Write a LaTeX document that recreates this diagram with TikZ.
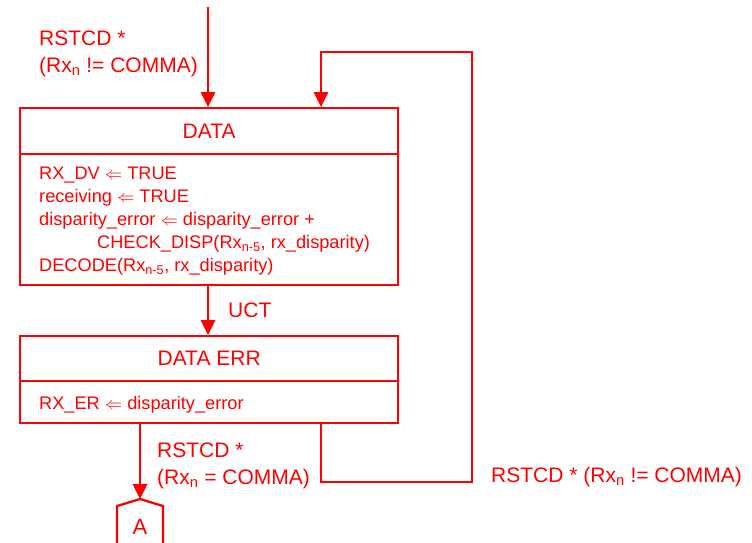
\documentclass[tikz,border=0pt]{standalone}
\usepackage{fontspec}
\setmainfont{Liberation Sans}
\usetikzlibrary{arrows.meta}
\definecolor{sred}{RGB}{255,0,0}
\newcommand\mysub[1]{\textsubscript{#1}}
\begin{document}
\begin{tikzpicture}[x=1pt,y=-1pt,
  every node/.style={text=sred},
  boxpart/.style={draw=sred,line width=2.3pt,minimum width=378pt,anchor=north west,inner sep=0pt},
  big/.style={font=\fontsize{21}{26.5}\selectfont},
  small/.style={font=\fontsize{18.2}{23}\selectfont},
  conn/.style={draw=sred,line width=2.6pt},
  arr/.style={conn,-{Triangle[width=14pt,length=15pt]}},
  lbl/.style={big,align=left,inner sep=0pt,anchor=north west}]
\useasboundingbox (0,0) rectangle (752,542);
\clip (0,0) rectangle (752,542);
% DATA state
\node[boxpart,minimum height=46pt,big] (dataH) at (19,107) {DATA};
\node[boxpart,minimum height=131pt] (dataB) at (19,153) {};
\node[small,align=left,inner sep=0pt,anchor=north west] (dataT) at (39,167)
 {RX\_DV $\Leftarrow$ TRUE\\
  receiving $\Leftarrow$ TRUE\\
  disparity\_error $\Leftarrow$ disparity\_error +\\
  \hspace*{58pt}CHECK\_DISP(Rx\mysub{n-5}, rx\_disparity)\\
  DECODE(Rx\mysub{n-5}, rx\_disparity)};
% DATA ERR state
\node[boxpart,minimum height=45pt,big] (errH) at (19,335) {DATA ERR};
\node[boxpart,minimum height=42pt] (errB) at (19,380) {};
\node[small,inner sep=0pt,anchor=base west] (errT) at (39,409) {RX\_ER $\Leftarrow$ disparity\_error};
% connector A
\coordinate (aTop) at (140,499);
\draw[draw=sred,line width=2.3pt] (117,545) -- (117,506) -- (aTop) -- (163,506) -- (163,545);
\node[font=\fontsize{22}{26}\selectfont,anchor=base,inner sep=0pt] (aLbl) at (140,534) {A};
% entry
\coordinate (entry) at (208,7);
\draw[arr] (entry) -- (dataH.north west -| entry);
\node[lbl] (entryL) at (39,31) {RSTCD *\\(Rx\mysub{n} != COMMA)};
% UCT
\draw[arr] (dataB.south -| entry) -- (errH.north -| entry);
\node[big,anchor=base west,inner sep=0pt] (uct) at (228,317) {UCT};
% to A
\draw[arr] (errB.south west -| aTop) -- (aTop);
\node[lbl] (aL) at (157,443) {RSTCD *\\(Rx\mysub{n} = COMMA)};
% loop back
\coordinate (l1) at (321,482);
\coordinate (l2) at (472,482);
\coordinate (l3) at (472,52);
\coordinate (l4) at (321,52);
\draw[arr] (errB.south west -| l1) -- (l1) -- (l2) -- (l3) -- (l4) -- (dataH.north west -| l4);
\node[big,anchor=base west,inner sep=0pt] (loopL) at (491,482) {RSTCD * (Rx\mysub{n} != COMMA)};
\end{tikzpicture}
\end{document}
